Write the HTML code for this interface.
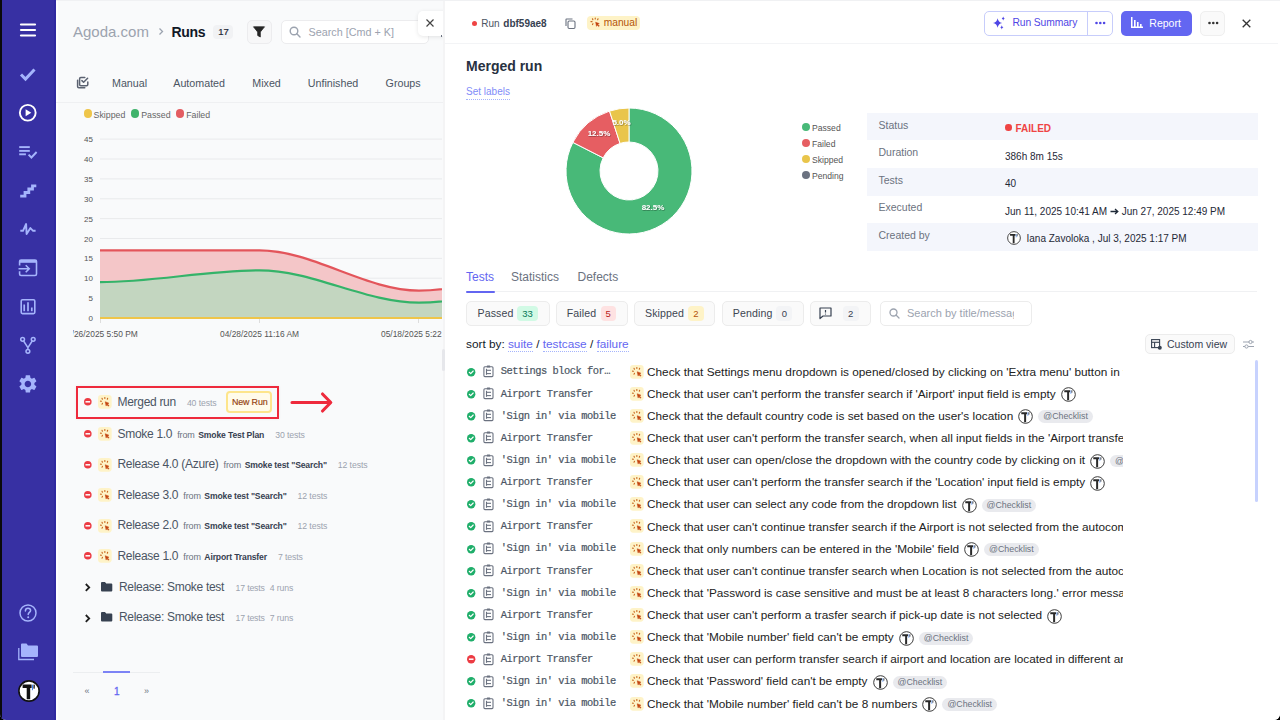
<!DOCTYPE html>
<html><head><meta charset="utf-8"><style>
*{box-sizing:border-box;margin:0;padding:0}
html,body{width:1280px;height:720px;overflow:hidden;background:#000}
body{font-family:"Liberation Sans",sans-serif;position:relative;color:#111827}
#app{position:absolute;left:0;top:0;width:1280px;height:720px;background:#fff;border-bottom-left-radius:6px;border-bottom-right-radius:6px;overflow:hidden}
.a{position:absolute}
.t{position:absolute;white-space:nowrap;line-height:1}
svg{position:absolute;overflow:visible}
</style></head><body><div id="app">
<div class="a" style="left:0;top:0;width:56px;height:720px;background:#3730a3"></div>
<div class="a" style="left:0;top:0;width:1.5px;height:720px;background:#0a0a0a"></div>
<div class="a" style="left:54px;top:0;width:2px;height:720px;background:#3029a0"></div>
<svg style="left:19px;top:22px" width="18" height="16"><g stroke="#fff" stroke-width="2.2" stroke-linecap="round"><line x1="2" y1="2.5" x2="16" y2="2.5"/><line x1="2" y1="8" x2="16" y2="8"/><line x1="2" y1="13.5" x2="16" y2="13.5"/></g></svg>
<svg style="left:0;top:0" width="56" height="720"><path d="M21 74.5 L25.5 79 L34.5 69.5" fill="none" stroke="#a5b4fc" stroke-width="3" stroke-linecap="butt" stroke-linejoin="miter"/></svg>
<svg style="left:0;top:0" width="56" height="720"><circle cx="27.75" cy="112.75" r="7.9" fill="none" stroke="#fff" stroke-width="1.9"/><path d="M25.6 109.2 L31.3 112.75 L25.6 116.3Z" fill="#fff"/></svg>
<svg style="left:0;top:0" width="56" height="720"><g stroke="#a5b4fc" stroke-width="1.9" fill="none"><line x1="19.2" y1="147.1" x2="29.8" y2="147.1"/><line x1="19.2" y1="150.9" x2="29.8" y2="150.9"/><line x1="19.2" y1="154.3" x2="25.9" y2="154.3"/><path d="M28.6 154.6 L31.4 157.5 L36.6 152"/></g></svg>
<svg style="left:0;top:0" width="56" height="720"><path d="M20.2 196.1 H25 V192.5 H28.8 V189 H32.5 V185.8 H36.3" fill="none" stroke="#a5b4fc" stroke-width="2.8" stroke-linejoin="miter"/></svg>
<svg style="left:0;top:0" width="56" height="720"><path d="M20.3 230.8 H23 L26.1 224 L26.6 234 L30.4 228.1 L33.1 230.8 H35.6" fill="none" stroke="#a5b4fc" stroke-width="1.9" stroke-linejoin="round" stroke-linecap="butt"/></svg>
<svg style="left:0;top:0" width="56" height="720"><g fill="none" stroke="#a5b4fc" stroke-width="1.6"><path d="M19.6 265.6 V261.5 Q19.6 260 21.1 260 H35 Q36.5 260 36.5 261.5 V274 Q36.5 275.5 35 275.5 H21.1 Q19.6 275.5 19.6 274 V271.3"/><path d="M18.5 268.7 H28.8 M25.7 265.2 L29.2 268.7 L25.7 272.2"/></g><rect x="19.6" y="260" width="16.9" height="2.8" fill="#a5b4fc"/></svg>
<svg style="left:0;top:0" width="56" height="720"><rect x="21.2" y="299.7" width="13.6" height="13.9" rx="1.3" fill="none" stroke="#a5b4fc" stroke-width="1.6"/><g stroke="#a5b4fc" stroke-width="1.7"><line x1="24.2" y1="304.5" x2="24.2" y2="311.2"/><line x1="28" y1="302.2" x2="28" y2="311.2"/><line x1="31.8" y1="307.5" x2="31.8" y2="311.2"/></g></svg>
<svg style="left:0;top:0" width="56" height="720"><g fill="none" stroke="#a5b4fc" stroke-width="1.5"><circle cx="22.6" cy="339.3" r="1.9"/><circle cx="33.2" cy="339.3" r="1.9"/><circle cx="27.9" cy="351.3" r="1.9"/><path d="M23.6 341 L27.9 347.6 L32.2 341 M27.9 347.6 V349.4"/></g></svg>
<svg style="left:17px;top:373px" width="21.8" height="21.8" viewBox="0 0 24 24"><path fill="#a5b4fc" d="M19.14 12.94c.04-.3.06-.61.06-.94 0-.32-.02-.64-.07-.94l2.03-1.58a.49.49 0 0 0 .12-.61l-1.92-3.32a.488.488 0 0 0-.59-.22l-2.39.96c-.5-.38-1.03-.7-1.62-.94l-.36-2.54a.484.484 0 0 0-.48-.41h-3.84c-.24 0-.43.17-.47.41l-.36 2.54c-.59.24-1.13.57-1.62.94l-2.39-.96c-.22-.08-.47 0-.59.22L2.74 8.87c-.12.21-.08.47.12.61l2.03 1.58c-.05.3-.09.63-.09.94s.02.64.07.94l-2.03 1.58a.49.49 0 0 0-.12.61l1.92 3.32c.12.22.37.29.59.22l2.39-.96c.5.38 1.03.7 1.62.94l.36 2.54c.05.24.24.41.48.41h3.84c.24 0 .44-.17.47-.41l.36-2.54c.59-.24 1.13-.56 1.62-.94l2.39.96c.22.08.47 0 .59-.22l1.92-3.32c.12-.22.07-.47-.12-.61l-2.01-1.58zM12 15.6c-1.98 0-3.6-1.62-3.6-3.6s1.62-3.6 3.6-3.6 3.6 1.62 3.6 3.6-1.62 3.6-3.6 3.6z"/></svg>
<svg style="left:19px;top:604px" width="18" height="18"><circle cx="9" cy="9" r="8" fill="none" stroke="#a5b4fc" stroke-width="1.5"/><path d="M6.4 7 C6.4 5.2 7.6 4.3 9 4.3 C10.5 4.3 11.6 5.3 11.6 6.6 C11.6 8.3 9.2 8.5 9.2 10.4" fill="none" stroke="#a5b4fc" stroke-width="1.5" stroke-linecap="round"/><circle cx="9.2" cy="13.2" r="1" fill="#a5b4fc"/></svg>
<svg style="left:17px;top:642px" width="22" height="20"><path d="M4 2.5 Q4 1.5 5 1.5 H9.5 L11 3.5 H20 Q21 3.5 21 4.5 V14 Q21 15 20 15 H5 Q4 15 4 14Z" fill="#a5b4fc"/><path d="M1.8 6 V17.5 H17" fill="none" stroke="#a5b4fc" stroke-width="1.3"/></svg>
<svg style="left:17.8px;top:679.7px" width="22" height="22"><circle cx="11" cy="11" r="10.1" fill="#fff" stroke="#111" stroke-width="1.6"/><path d="M4.6 4.6 H13.6 V7.9 H12.2 V19.2 H8.7 V7.9 H4.6Z" fill="#111"/><line x1="14.6" y1="4.6" x2="14.4" y2="10.2" stroke="#3b82f6" stroke-width="1"/><line x1="16.2" y1="4.6" x2="16" y2="8.6" stroke="#111" stroke-width="1.3"/></svg>
<div class="a" style="left:56px;top:0;width:2px;height:720px;background:#fff"></div>
<div class="a" style="left:58px;top:0;width:385px;height:720px;background:#f9fafb"></div>
<div class="a" style="left:442.5px;top:0;width:3px;height:720px;background:#f4f4f5"></div>
<div class="t" style="left:73px;top:24.2px;font-size:15px;color:#9ca3af">Agoda.com</div>
<svg style="left:158px;top:27px" width="6" height="9"><path d="M1.5 1.5 L4.5 4.5 L1.5 7.5" fill="none" stroke="#9ca3af" stroke-width="1.3"/></svg>
<div class="t" style="left:171.5px;top:25px;font-size:14px;letter-spacing:-0.3px;font-weight:bold;color:#111827">Runs</div>
<div class="a" style="left:213px;top:25px;width:20px;height:14px;border-radius:4px;background:#f1f2f4"></div>
<div class="t" style="left:218.3px;top:27.3px;font-size:9.5px;color:#1f2937;-webkit-text-stroke:0.2px #1f2937">17</div>
<div class="a" style="left:247px;top:19.5px;width:24.5px;height:24.5px;border-radius:5px;background:#f7f7f8;border:1px solid #ececee"></div>
<svg style="left:253px;top:25.5px" width="12" height="12"><path d="M0.5 0.8 H11.5 L7.3 6 V11 L4.7 9.5 V6Z" fill="#262626" stroke="#262626" stroke-width="0.8" stroke-linejoin="round"/></svg>
<div class="a" style="left:280.5px;top:19.5px;width:148px;height:24.5px;border-radius:5px;background:#fff;border:1px solid #ececee"></div>
<svg style="left:289px;top:25.5px" width="12" height="12"><circle cx="5" cy="5" r="3.8" fill="none" stroke="#9ca3af" stroke-width="1.4"/><line x1="7.8" y1="7.8" x2="11" y2="11" stroke="#9ca3af" stroke-width="1.4" stroke-linecap="round"/></svg>
<div class="t" style="left:308.5px;top:27px;font-size:10.8px;color:#9ca3af">Search [Cmd + K]</div>
<div class="a" style="left:400px;top:0;width:42.5px;height:60px;overflow:hidden"><div class="a" style="left:17.5px;top:10.5px;width:30px;height:25px;border-radius:5px;background:#fff;box-shadow:0 1px 4px rgba(0,0,0,0.10)"></div></div>
<div class="a" style="left:440.8px;top:35.3px;width:1.5px;height:1.5px;background:#6b7280"></div>
<svg style="left:425.5px;top:19px" width="8" height="8"><path d="M0.5 0.5 L7.5 7.5 M7.5 0.5 L0.5 7.5" stroke="#444" stroke-width="1.2"/></svg>
<svg style="left:0;top:0" width="120" height="100"><g fill="none" stroke="#5b6271" stroke-width="1.5" stroke-linecap="round" stroke-linejoin="round"><path d="M84.8 77.6 H80.8 Q79.6 77.6 79.6 78.8 V84.6 Q79.6 85.8 80.8 85.8 H86.6 Q87.8 85.8 87.8 84.6 V82"/><path d="M81.9 80.6 L83.6 82.3 L87.6 78.3"/><path d="M77.6 80.2 V86.6 Q77.6 87.8 78.8 87.8 H84.8"/></g></svg>
<div class="t" style="left:112px;top:78.3px;font-size:10.7px;color:#4b5563">Manual</div>
<div class="t" style="left:173.3px;top:78.3px;font-size:10.7px;color:#4b5563">Automated</div>
<div class="t" style="left:252.3px;top:78.3px;font-size:10.7px;color:#4b5563">Mixed</div>
<div class="t" style="left:307.8px;top:78.3px;font-size:10.7px;color:#4b5563">Unfinished</div>
<div class="t" style="left:385.6px;top:78.3px;font-size:10.7px;color:#4b5563">Groups</div>
<div class="a" style="left:56px;top:101.5px;width:387px;height:1px;background:#eff0f2"></div>
<div class="a" style="left:83.5px;top:109.2px;width:8.4px;height:8.4px;border-radius:50%;background:#eec54a"></div>
<div class="t" style="left:93.6px;top:110.5px;font-size:8.8px;color:#666">Skipped</div>
<div class="a" style="left:130.8px;top:109.2px;width:8.4px;height:8.4px;border-radius:50%;background:#3fb36b"></div>
<div class="t" style="left:141.2px;top:110.5px;font-size:8.8px;color:#666">Passed</div>
<div class="a" style="left:175.60000000000002px;top:109.2px;width:8.4px;height:8.4px;border-radius:50%;background:#e35d62"></div>
<div class="t" style="left:186.2px;top:110.5px;font-size:8.8px;color:#666">Failed</div>
<svg style="left:0;top:0" width="1280" height="720">
<text x="93" y="321.0" text-anchor="end" font-size="8" fill="#555" font-family="Liberation Sans">0</text><line x1="100" y1="298.1" x2="442" y2="298.1" stroke="#e9eaec" stroke-width="1"/><text x="93" y="301.1" text-anchor="end" font-size="8" fill="#555" font-family="Liberation Sans">5</text><line x1="100" y1="278.2" x2="442" y2="278.2" stroke="#e9eaec" stroke-width="1"/><text x="93" y="281.2" text-anchor="end" font-size="8" fill="#555" font-family="Liberation Sans">10</text><line x1="100" y1="258.4" x2="442" y2="258.4" stroke="#e9eaec" stroke-width="1"/><text x="93" y="261.4" text-anchor="end" font-size="8" fill="#555" font-family="Liberation Sans">15</text><line x1="100" y1="238.5" x2="442" y2="238.5" stroke="#e9eaec" stroke-width="1"/><text x="93" y="241.5" text-anchor="end" font-size="8" fill="#555" font-family="Liberation Sans">20</text><line x1="100" y1="218.6" x2="442" y2="218.6" stroke="#e9eaec" stroke-width="1"/><text x="93" y="221.6" text-anchor="end" font-size="8" fill="#555" font-family="Liberation Sans">25</text><line x1="100" y1="198.8" x2="442" y2="198.8" stroke="#e9eaec" stroke-width="1"/><text x="93" y="201.8" text-anchor="end" font-size="8" fill="#555" font-family="Liberation Sans">30</text><line x1="100" y1="178.9" x2="442" y2="178.9" stroke="#e9eaec" stroke-width="1"/><text x="93" y="181.9" text-anchor="end" font-size="8" fill="#555" font-family="Liberation Sans">35</text><line x1="100" y1="159.0" x2="442" y2="159.0" stroke="#e9eaec" stroke-width="1"/><text x="93" y="162.0" text-anchor="end" font-size="8" fill="#555" font-family="Liberation Sans">40</text><line x1="100" y1="139.1" x2="442" y2="139.1" stroke="#e9eaec" stroke-width="1"/><text x="93" y="142.1" text-anchor="end" font-size="8" fill="#555" font-family="Liberation Sans">45</text>
<defs><clipPath id="cc"><rect x="100" y="100" width="342" height="240"/></clipPath></defs>
<g clip-path="url(#cc)">
<path d="M100,250.4 C153.2,250.4 206.3,250.4 259.5,250.4 C312.7,250.4 365.8,290.6 419,290.6 C472.2,290.6 525.3,264.3 578.5,264.3 L578.5,318 L100,318Z" fill="#f4c6c8"/>
<path d="M100,282.2 C153.2,282.2 206.3,270.3 259.5,270.3 C312.7,270.3 365.8,302.7 419,302.7 C472.2,302.7 525.3,278.2 578.5,278.2 L578.5,318 L100,318Z" fill="#c3d6c0"/>
<path d="M100,250.4 C153.2,250.4 206.3,250.4 259.5,250.4 C312.7,250.4 365.8,290.6 419,290.6 C472.2,290.6 525.3,264.3 578.5,264.3" fill="none" stroke="#e3555b" stroke-width="2.2"/>
<path d="M100,282.2 C153.2,282.2 206.3,270.3 259.5,270.3 C312.7,270.3 365.8,302.7 419,302.7 C472.2,302.7 525.3,278.2 578.5,278.2" fill="none" stroke="#34b369" stroke-width="2.2"/>
<line x1="100" y1="318" x2="442" y2="318" stroke="#eec54a" stroke-width="2.2"/>
</g>
<line x1="100.5" y1="319" x2="100.5" y2="323" stroke="#ddd" stroke-width="1"/>
<line x1="259.5" y1="319" x2="259.5" y2="323" stroke="#ddd" stroke-width="1"/>
<line x1="418.5" y1="319" x2="418.5" y2="323" stroke="#ddd" stroke-width="1"/>
<defs><clipPath id="cl"><rect x="73" y="320" width="369" height="30"/></clipPath></defs>
<g clip-path="url(#cl)" font-family="Liberation Sans" font-size="8.4" fill="#555">
<text x="100" y="337.2" text-anchor="middle">04/26/2025 5:50 PM</text>
<text x="259.5" y="337.2" text-anchor="middle">04/28/2025 11:16 AM</text>
<text x="418.75" y="337.2" text-anchor="middle">05/18/2025 5:22 PM</text>
</g>
</svg>
<div class="a" style="left:442.3px;top:349.2px;width:3.2px;height:22px;background:#e6e7eb;border-radius:1.6px"></div>
<div class="a" style="left:75.5px;top:386px;width:203.5px;height:33px;border:2px solid #ee2a3c;background:#f9fafb;box-shadow:0 0 3px rgba(0,0,0,0.06)"></div>
<svg style="left:83.5px;top:397.9px" width="7.6" height="7.6"><circle cx="3.8" cy="3.8" r="3.8" fill="#ec3b43"/><rect x="1.5" y="3.05" width="4.6" height="1.5" fill="#fff"/></svg>
<svg style="left:98.3px;top:394.95px" width="13.7" height="13.7" viewBox="0 0 14 14"><rect x="0" y="0" width="14" height="14" rx="3.2" fill="#fef3c8"/><g stroke="#c8671e" stroke-width="1.1" stroke-linecap="round"><line x1="4.1" y1="3.3" x2="4.5" y2="4.3"/><line x1="7" y1="2.5" x2="7" y2="3.6"/><line x1="9.9" y1="3.3" x2="9.5" y2="4.3"/><line x1="2.5" y1="6.3" x2="3.6" y2="6.4"/><line x1="4.6" y1="8.5" x2="4.1" y2="9.4"/></g><path d="M7.4 6.9 L11.2 8.4 L9.6 9.1 L11.3 10.8 L10.6 11.5 L8.9 9.8 L8.3 11.3Z" fill="#c2410c" stroke="#c2410c" stroke-width="0.5" stroke-linejoin="round"/></svg>
<div class="t" style="left:117.5px;top:395.5px;font-size:12px;color:#4b5563;display:flex;align-items:baseline"><span style="letter-spacing:-0.3px">Merged run</span><span style="font-size:8.7px;letter-spacing:-0.1px;color:#9ca3af;margin-left:11px">40 tests</span></div>
<svg style="left:83.5px;top:430.0px" width="7.6" height="7.6"><circle cx="3.8" cy="3.8" r="3.8" fill="#ec3b43"/><rect x="1.5" y="3.05" width="4.6" height="1.5" fill="#fff"/></svg>
<svg style="left:98.3px;top:427.05px" width="13.7" height="13.7" viewBox="0 0 14 14"><rect x="0" y="0" width="14" height="14" rx="3.2" fill="#fef3c8"/><g stroke="#c8671e" stroke-width="1.1" stroke-linecap="round"><line x1="4.1" y1="3.3" x2="4.5" y2="4.3"/><line x1="7" y1="2.5" x2="7" y2="3.6"/><line x1="9.9" y1="3.3" x2="9.5" y2="4.3"/><line x1="2.5" y1="6.3" x2="3.6" y2="6.4"/><line x1="4.6" y1="8.5" x2="4.1" y2="9.4"/></g><path d="M7.4 6.9 L11.2 8.4 L9.6 9.1 L11.3 10.8 L10.6 11.5 L8.9 9.8 L8.3 11.3Z" fill="#c2410c" stroke="#c2410c" stroke-width="0.5" stroke-linejoin="round"/></svg>
<div class="t" style="left:117.5px;top:427.6px;font-size:12px;color:#4b5563;display:flex;align-items:baseline"><span style="letter-spacing:-0.3px">Smoke 1.0</span><span style="font-size:9px;letter-spacing:-0.1px;color:#6b7280;margin-left:5px">from</span><span style="font-size:8.6px;letter-spacing:-0.15px;font-weight:bold;color:#374151;margin-left:3.5px">Smoke Test Plan</span><span style="font-size:8.7px;letter-spacing:-0.1px;color:#9ca3af;margin-left:11px">30 tests</span></div>
<svg style="left:83.5px;top:460.59999999999997px" width="7.6" height="7.6"><circle cx="3.8" cy="3.8" r="3.8" fill="#ec3b43"/><rect x="1.5" y="3.05" width="4.6" height="1.5" fill="#fff"/></svg>
<svg style="left:98.3px;top:457.65px" width="13.7" height="13.7" viewBox="0 0 14 14"><rect x="0" y="0" width="14" height="14" rx="3.2" fill="#fef3c8"/><g stroke="#c8671e" stroke-width="1.1" stroke-linecap="round"><line x1="4.1" y1="3.3" x2="4.5" y2="4.3"/><line x1="7" y1="2.5" x2="7" y2="3.6"/><line x1="9.9" y1="3.3" x2="9.5" y2="4.3"/><line x1="2.5" y1="6.3" x2="3.6" y2="6.4"/><line x1="4.6" y1="8.5" x2="4.1" y2="9.4"/></g><path d="M7.4 6.9 L11.2 8.4 L9.6 9.1 L11.3 10.8 L10.6 11.5 L8.9 9.8 L8.3 11.3Z" fill="#c2410c" stroke="#c2410c" stroke-width="0.5" stroke-linejoin="round"/></svg>
<div class="t" style="left:117.5px;top:458.2px;font-size:12px;color:#4b5563;display:flex;align-items:baseline"><span style="letter-spacing:-0.3px">Release 4.0 (Azure)</span><span style="font-size:9px;letter-spacing:-0.1px;color:#6b7280;margin-left:5px">from</span><span style="font-size:8.6px;letter-spacing:-0.15px;font-weight:bold;color:#374151;margin-left:3.5px">Smoke test &quot;Search&quot;</span><span style="font-size:8.7px;letter-spacing:-0.1px;color:#9ca3af;margin-left:11px">12 tests</span></div>
<svg style="left:83.5px;top:491.4px" width="7.6" height="7.6"><circle cx="3.8" cy="3.8" r="3.8" fill="#ec3b43"/><rect x="1.5" y="3.05" width="4.6" height="1.5" fill="#fff"/></svg>
<svg style="left:98.3px;top:488.45px" width="13.7" height="13.7" viewBox="0 0 14 14"><rect x="0" y="0" width="14" height="14" rx="3.2" fill="#fef3c8"/><g stroke="#c8671e" stroke-width="1.1" stroke-linecap="round"><line x1="4.1" y1="3.3" x2="4.5" y2="4.3"/><line x1="7" y1="2.5" x2="7" y2="3.6"/><line x1="9.9" y1="3.3" x2="9.5" y2="4.3"/><line x1="2.5" y1="6.3" x2="3.6" y2="6.4"/><line x1="4.6" y1="8.5" x2="4.1" y2="9.4"/></g><path d="M7.4 6.9 L11.2 8.4 L9.6 9.1 L11.3 10.8 L10.6 11.5 L8.9 9.8 L8.3 11.3Z" fill="#c2410c" stroke="#c2410c" stroke-width="0.5" stroke-linejoin="round"/></svg>
<div class="t" style="left:117.5px;top:489.0px;font-size:12px;color:#4b5563;display:flex;align-items:baseline"><span style="letter-spacing:-0.3px">Release 3.0</span><span style="font-size:9px;letter-spacing:-0.1px;color:#6b7280;margin-left:5px">from</span><span style="font-size:8.6px;letter-spacing:-0.15px;font-weight:bold;color:#374151;margin-left:3.5px">Smoke test &quot;Search&quot;</span><span style="font-size:8.7px;letter-spacing:-0.1px;color:#9ca3af;margin-left:11px">12 tests</span></div>
<svg style="left:83.5px;top:521.6px" width="7.6" height="7.6"><circle cx="3.8" cy="3.8" r="3.8" fill="#ec3b43"/><rect x="1.5" y="3.05" width="4.6" height="1.5" fill="#fff"/></svg>
<svg style="left:98.3px;top:518.65px" width="13.7" height="13.7" viewBox="0 0 14 14"><rect x="0" y="0" width="14" height="14" rx="3.2" fill="#fef3c8"/><g stroke="#c8671e" stroke-width="1.1" stroke-linecap="round"><line x1="4.1" y1="3.3" x2="4.5" y2="4.3"/><line x1="7" y1="2.5" x2="7" y2="3.6"/><line x1="9.9" y1="3.3" x2="9.5" y2="4.3"/><line x1="2.5" y1="6.3" x2="3.6" y2="6.4"/><line x1="4.6" y1="8.5" x2="4.1" y2="9.4"/></g><path d="M7.4 6.9 L11.2 8.4 L9.6 9.1 L11.3 10.8 L10.6 11.5 L8.9 9.8 L8.3 11.3Z" fill="#c2410c" stroke="#c2410c" stroke-width="0.5" stroke-linejoin="round"/></svg>
<div class="t" style="left:117.5px;top:519.1999999999999px;font-size:12px;color:#4b5563;display:flex;align-items:baseline"><span style="letter-spacing:-0.3px">Release 2.0</span><span style="font-size:9px;letter-spacing:-0.1px;color:#6b7280;margin-left:5px">from</span><span style="font-size:8.6px;letter-spacing:-0.15px;font-weight:bold;color:#374151;margin-left:3.5px">Smoke test &quot;Search&quot;</span><span style="font-size:8.7px;letter-spacing:-0.1px;color:#9ca3af;margin-left:11px">12 tests</span></div>
<svg style="left:83.5px;top:552.2px" width="7.6" height="7.6"><circle cx="3.8" cy="3.8" r="3.8" fill="#ec3b43"/><rect x="1.5" y="3.05" width="4.6" height="1.5" fill="#fff"/></svg>
<svg style="left:98.3px;top:549.25px" width="13.7" height="13.7" viewBox="0 0 14 14"><rect x="0" y="0" width="14" height="14" rx="3.2" fill="#fef3c8"/><g stroke="#c8671e" stroke-width="1.1" stroke-linecap="round"><line x1="4.1" y1="3.3" x2="4.5" y2="4.3"/><line x1="7" y1="2.5" x2="7" y2="3.6"/><line x1="9.9" y1="3.3" x2="9.5" y2="4.3"/><line x1="2.5" y1="6.3" x2="3.6" y2="6.4"/><line x1="4.6" y1="8.5" x2="4.1" y2="9.4"/></g><path d="M7.4 6.9 L11.2 8.4 L9.6 9.1 L11.3 10.8 L10.6 11.5 L8.9 9.8 L8.3 11.3Z" fill="#c2410c" stroke="#c2410c" stroke-width="0.5" stroke-linejoin="round"/></svg>
<div class="t" style="left:117.5px;top:549.8px;font-size:12px;color:#4b5563;display:flex;align-items:baseline"><span style="letter-spacing:-0.3px">Release 1.0</span><span style="font-size:9px;letter-spacing:-0.1px;color:#6b7280;margin-left:5px">from</span><span style="font-size:8.6px;letter-spacing:-0.15px;font-weight:bold;color:#374151;margin-left:3.5px">Airport Transfer</span><span style="font-size:8.7px;letter-spacing:-0.1px;color:#9ca3af;margin-left:11px">7 tests</span></div>
<div class="a" style="left:226px;top:391.2px;width:46px;height:21.6px;border-radius:4px;border:2px solid #fde58c;background:#fffbeb"></div>
<div class="t" style="left:232px;top:397.5px;font-size:8.9px;letter-spacing:-0.15px;-webkit-text-stroke:0.15px #92400e;color:#92400e">New Run</div>
<svg style="left:288px;top:390px" width="48" height="24"><path d="M4 12.5 H42.5 M34.5 4 L42.8 12.5 L34.5 21" fill="none" stroke="#ee2a3c" stroke-width="3.1" stroke-linecap="round" stroke-linejoin="round"/></svg>
<svg style="left:83.5px;top:583.4px" width="7" height="9"><path d="M1.8 1 L5.2 4.4 L1.8 7.8" fill="none" stroke="#1f1f1f" stroke-width="1.8"/></svg>
<svg style="left:100.8px;top:581.9px" width="11.3" height="9.6"><path d="M0 1 Q0 0 1 0 H4 L5.2 1.4 H10.3 Q11.3 1.4 11.3 2.4 V8.6 Q11.3 9.6 10.3 9.6 H1 Q0 9.6 0 8.6Z" fill="#374151"/></svg>
<div class="t" style="left:119px;top:580.5px;font-size:12px;color:#4b5563;display:flex;align-items:baseline"><span style="letter-spacing:-0.3px">Release: Smoke test</span><span style="font-size:8.7px;letter-spacing:-0.15px;color:#9ca3af;margin-left:11.5px">17 tests</span><span style="font-size:8.7px;letter-spacing:-0.1px;color:#9ca3af;margin-left:5px">4 runs</span></div>
<svg style="left:83.5px;top:613.9px" width="7" height="9"><path d="M1.8 1 L5.2 4.4 L1.8 7.8" fill="none" stroke="#1f1f1f" stroke-width="1.8"/></svg>
<svg style="left:100.8px;top:612.4px" width="11.3" height="9.6"><path d="M0 1 Q0 0 1 0 H4 L5.2 1.4 H10.3 Q11.3 1.4 11.3 2.4 V8.6 Q11.3 9.6 10.3 9.6 H1 Q0 9.6 0 8.6Z" fill="#374151"/></svg>
<div class="t" style="left:119px;top:611.0px;font-size:12px;color:#4b5563;display:flex;align-items:baseline"><span style="letter-spacing:-0.3px">Release: Smoke test</span><span style="font-size:8.7px;letter-spacing:-0.15px;color:#9ca3af;margin-left:11.5px">17 tests</span><span style="font-size:8.7px;letter-spacing:-0.1px;color:#9ca3af;margin-left:5px">7 runs</span></div>
<div class="a" style="left:73px;top:671.5px;width:87px;height:1px;background:#eceef0"></div>
<div class="a" style="left:103px;top:671.4px;width:27px;height:2px;background:#7c83f5"></div>
<div class="t" style="left:84.5px;top:687.3px;font-size:9px;color:#6b7280">«</div>
<div class="t" style="left:114px;top:686.5px;font-size:10px;color:#6366f1;-webkit-text-stroke:0.3px #6366f1">1</div>
<div class="t" style="left:144px;top:687.3px;font-size:9px;color:#6b7280">»</div>
<div class="a" style="left:445px;top:0;width:835px;height:720px;background:#fff"></div>
<div class="a" style="left:445px;top:43px;width:833px;height:1.2px;background:#f3f4f6"></div>
<div class="a" style="left:471.8px;top:21px;width:5px;height:5px;border-radius:50%;background:#ef4444"></div>
<div class="t" style="left:481.2px;top:19px;font-size:10px;color:#4b5563">Run <b style="color:#374151;margin-left:1px">dbf59ae8</b></div>
<svg style="left:565px;top:18px" width="11" height="11"><g fill="none" stroke="#6b7280" stroke-width="1.1"><rect x="3" y="3" width="7" height="7.5" rx="1.2"/><path d="M1 8 V1.5 Q1 1 1.5 1 H7.5"/></g></svg>
<div class="a" style="left:586.5px;top:16px;width:53px;height:14px;border-radius:4px;background:#fef3c7"></div>
<svg style="left:590px;top:17.2px" width="10.5" height="10.5" viewBox="1.5 1.5 11 11"><g stroke="#c8671e" stroke-width="1.2" stroke-linecap="round"><line x1="4.1" y1="3.3" x2="4.5" y2="4.3"/><line x1="7" y1="2.5" x2="7" y2="3.6"/><line x1="9.9" y1="3.3" x2="9.5" y2="4.3"/><line x1="2.5" y1="6.3" x2="3.6" y2="6.4"/><line x1="4.6" y1="8.5" x2="4.1" y2="9.4"/></g><path d="M7.4 6.9 L11.2 8.4 L9.6 9.1 L11.3 10.8 L10.6 11.5 L8.9 9.8 L8.3 11.3Z" fill="#c2410c" stroke="#c2410c" stroke-width="0.5" stroke-linejoin="round"/></svg>
<div class="t" style="left:603.8px;top:18px;font-size:10.2px;color:#b45309">manual</div>
<div class="a" style="left:984px;top:10.5px;width:129px;height:25px;border-radius:5px;border:1px solid #c7cdfb;background:#fff"></div>
<div class="a" style="left:1087px;top:11px;width:1px;height:24px;background:#c7cdfb"></div>
<svg style="left:0;top:0" width="1280" height="60"><g fill="#4f46e5"><path d="M997.6 18.2 Q998.3 22.3 1002.2 23 Q998.3 23.7 997.6 27.8 Q996.9 23.7 993 23 Q996.9 22.3 997.6 18.2Z"/><path d="M1003.2 16.6 Q1003.5 18.3 1004.7 18.6 Q1003.5 18.9 1003.2 20.6 Q1002.9 18.9 1001.7 18.6 Q1002.9 18.3 1003.2 16.6Z"/><path d="M1001.8 25.2 Q1002.1 27 1003.4 27.3 Q1002.1 27.6 1001.8 29.4 Q1001.5 27.6 1000.2 27.3 Q1001.5 27 1001.8 25.2Z"/></g></svg>
<div class="t" style="left:1012.5px;top:18.3px;font-size:10.3px;letter-spacing:-0.1px;color:#4f46e5">Run Summary</div>
<svg style="left:1095px;top:21px" width="11" height="4"><g fill="#4f46e5"><circle cx="1.5" cy="2" r="1.3"/><circle cx="5.3" cy="2" r="1.3"/><circle cx="9.1" cy="2" r="1.3"/></g></svg>
<div class="a" style="left:1121px;top:10.5px;width:71px;height:25px;border-radius:5px;background:#6366f1"></div>
<svg style="left:1131px;top:17px" width="12" height="11"><g fill="#fff"><rect x="0" y="0" width="1.5" height="11"/><rect x="0" y="9.5" width="12" height="1.5"/><rect x="3" y="3" width="1.6" height="7"/><rect x="6" y="5" width="1.6" height="5"/><rect x="9" y="7" width="1.6" height="3"/></g></svg>
<div class="t" style="left:1149.3px;top:18px;font-size:10.5px;color:#fff">Report</div>
<div class="a" style="left:1200px;top:10.5px;width:25px;height:25px;border-radius:5px;background:#fafafa;border:1px solid #efefef"></div>
<svg style="left:1207.5px;top:21px" width="11" height="4"><g fill="#333"><circle cx="1.5" cy="2" r="1.3"/><circle cx="5.3" cy="2" r="1.3"/><circle cx="9.1" cy="2" r="1.3"/></g></svg>
<svg style="left:1241.5px;top:18.5px" width="9" height="9"><path d="M0.7 0.7 L8.3 8.3 M8.3 0.7 L0.7 8.3" stroke="#333" stroke-width="1.3"/></svg>
<div class="t" style="left:466px;top:59.2px;font-size:14px;font-weight:bold;color:#283141">Merged run</div>
<div class="t" style="left:466px;top:87px;font-size:10px;color:#818cf8;border-bottom:1px dotted #a5b4fc;padding-bottom:2px">Set labels</div>
<svg style="left:0;top:0" width="1280" height="720"><defs><filter id="ts" x="-20%" y="-50%" width="140%" height="200%"><feDropShadow dx="0.5" dy="0.5" stdDeviation="0.6" flood-color="#000" flood-opacity="0.6"/></filter></defs><path d="M629.00,108.00 A63,63 0 1 1 572.87,142.40 L603.16,157.83 A29,29 0 1 0 629.00,142.00Z" fill="#48b978" stroke="#fff" stroke-width="1"/><path d="M572.87,142.40 A63,63 0 0 1 609.53,111.08 L620.04,143.42 A29,29 0 0 0 603.16,157.83Z" fill="#e65e62" stroke="#fff" stroke-width="1"/><path d="M609.53,111.08 A63,63 0 0 1 629.00,108.00 L629.00,142.00 A29,29 0 0 0 620.04,143.42Z" fill="#e9c54b" stroke="#fff" stroke-width="1"/><g font-family="Liberation Sans" font-size="8" font-weight="bold" fill="#fff" text-anchor="middle" filter="url(#ts)"><text x="653" y="210.3">82.5%</text><text x="599" y="135.8">12.5%</text><text x="621.5" y="125.3">5.0%</text></g></svg>
<div class="a" style="left:801.5px;top:122.65px;width:8.2px;height:8.2px;border-radius:50%;background:#48b978"></div>
<div class="t" style="left:812px;top:123.75px;font-size:8.6px;color:#555">Passed</div>
<div class="a" style="left:801.5px;top:138.9px;width:8.2px;height:8.2px;border-radius:50%;background:#e65e62"></div>
<div class="t" style="left:812px;top:140px;font-size:8.6px;color:#555">Failed</div>
<div class="a" style="left:801.5px;top:154.65px;width:8.2px;height:8.2px;border-radius:50%;background:#e9c54b"></div>
<div class="t" style="left:812px;top:155.75px;font-size:8.6px;color:#555">Skipped</div>
<div class="a" style="left:801.5px;top:170.9px;width:8.2px;height:8.2px;border-radius:50%;background:#6b7280"></div>
<div class="t" style="left:812px;top:172px;font-size:8.6px;color:#555">Pending</div>
<div class="a" style="left:867px;top:113.1px;width:390.5px;height:27.4px;background:#f4f6fc"></div>
<div class="t" style="left:878.5px;top:119.7px;font-size:10.5px;color:#6b7280">Status</div>
<div class="t" style="left:878.5px;top:147.1px;font-size:10.5px;color:#6b7280">Duration</div>
<div class="t" style="left:1005px;top:151.8px;font-size:10px;color:#1f2937">386h 8m 15s</div>
<div class="a" style="left:867px;top:168px;width:390.5px;height:27.6px;background:#f4f6fc"></div>
<div class="t" style="left:878.5px;top:174.6px;font-size:10.5px;color:#6b7280">Tests</div>
<div class="t" style="left:1005px;top:179.3px;font-size:10px;color:#1f2937">40</div>
<div class="t" style="left:878.5px;top:202.2px;font-size:10.5px;color:#6b7280">Executed</div>
<div class="t" style="left:1005px;top:206.9px;font-size:10px;color:#1f2937">Jun 11, 2025 10:41 AM <svg style="position:relative;display:inline-block;vertical-align:middle;top:-1px" width="9" height="7"><path d="M0.5 3.5 H7.5 M5 1 L7.8 3.5 L5 6" fill="none" stroke="#1f2937" stroke-width="1.3"/></svg> Jun 27, 2025 12:49 PM</div>
<div class="a" style="left:867px;top:223.3px;width:390.5px;height:27.5px;background:#f4f6fc"></div>
<div class="t" style="left:878.5px;top:229.9px;font-size:10.5px;color:#6b7280">Created by</div>
<div class="a" style="left:1005px;top:124px;width:6.5px;height:6.5px;border-radius:50%;background:#ef4444"></div>
<div class="t" style="left:1015.5px;top:123.5px;font-size:10px;font-weight:bold;color:#ef4444">FAILED</div>
<svg style="left:1007px;top:231px" width="14" height="14" viewBox="0 0 22 22"><circle cx="11" cy="11" r="10" fill="#fff" stroke="#333" stroke-width="1.4"/><path d="M4.8 4.8 H13.4 V7.6 H11.9 V19.3 H9 V7.6 H4.8Z" fill="#2a2a2a"/><line x1="14.6" y1="4.8" x2="14.4" y2="10" stroke="#3b82f6" stroke-width="1"/><line x1="16.1" y1="4.8" x2="15.9" y2="8.4" stroke="#2a2a2a" stroke-width="1.2"/></svg>
<div class="t" style="left:1026.5px;top:234px;font-size:10px;color:#1f2937">Iana Zavoloka , Jul 3, 2025 1:17 PM</div>
<div class="t" style="left:466px;top:271px;font-size:12px;color:#6366f1">Tests</div>
<div class="t" style="left:511px;top:271px;font-size:12px;color:#6b7280">Statistics</div>
<div class="t" style="left:577.5px;top:271px;font-size:12px;color:#6b7280">Defects</div>
<div class="a" style="left:466px;top:291px;width:791px;height:1px;background:#f0f1f3"></div>
<div class="a" style="left:466px;top:290.5px;width:29px;height:2px;background:#6366f1;border-radius:1px"></div>
<div class="a" style="left:466px;top:300.5px;width:83.5px;height:25.5px;border-radius:5px;background:#fafafa;border:1px solid #ececec"></div><div class="t" style="left:477.5px;top:307.8px;font-size:10.6px;letter-spacing:0.1px;color:#404652">Passed</div><div class="a" style="left:517px;top:305.5px;width:21px;height:15px;border-radius:4px;background:#d1fae5"></div><div class="t" style="left:517px;top:308.5px;width:21px;text-align:center;font-size:9.5px;color:#047857">33</div>
<div class="a" style="left:555.5px;top:300.5px;width:72.0px;height:25.5px;border-radius:5px;background:#fafafa;border:1px solid #ececec"></div><div class="t" style="left:566.8px;top:307.8px;font-size:10.6px;letter-spacing:0.1px;color:#404652">Failed</div><div class="a" style="left:600.5px;top:305.5px;width:15.299999999999955px;height:15px;border-radius:4px;background:#fee2e2"></div><div class="t" style="left:600.5px;top:308.5px;width:15.299999999999955px;text-align:center;font-size:9.5px;color:#b91c1c">5</div>
<div class="a" style="left:633.8px;top:300.5px;width:81.70000000000005px;height:25.5px;border-radius:5px;background:#fafafa;border:1px solid #ececec"></div><div class="t" style="left:645px;top:307.8px;font-size:10.6px;letter-spacing:0.1px;color:#404652">Skipped</div><div class="a" style="left:688px;top:305.5px;width:15.799999999999955px;height:15px;border-radius:4px;background:#fef3c7"></div><div class="t" style="left:688px;top:308.5px;width:15.799999999999955px;text-align:center;font-size:9.5px;color:#b45309">2</div>
<div class="a" style="left:721.8px;top:300.5px;width:82.0px;height:25.5px;border-radius:5px;background:#fafafa;border:1px solid #ececec"></div><div class="t" style="left:732.8px;top:307.8px;font-size:10.6px;letter-spacing:0.1px;color:#404652">Pending</div><div class="a" style="left:776.3px;top:305.5px;width:16.200000000000045px;height:15px;border-radius:4px;background:#f3f4f6"></div><div class="t" style="left:776.3px;top:308.5px;width:16.200000000000045px;text-align:center;font-size:9.5px;color:#374151">0</div>
<div class="a" style="left:809.5px;top:300.5px;width:61.0px;height:25.5px;border-radius:5px;background:#fafafa;border:1px solid #ececec"></div><div class="a" style="left:842.5px;top:305.5px;width:16.299999999999955px;height:15px;border-radius:4px;background:#f3f4f6"></div><div class="t" style="left:842.5px;top:308.5px;width:16.299999999999955px;text-align:center;font-size:9.5px;color:#374151">2</div>
<svg style="left:818.5px;top:307px" width="13" height="12"><path d="M1 1 H12 V9 H4 L1 11.5Z" fill="none" stroke="#374151" stroke-width="1.2" stroke-linejoin="round"/><line x1="6.5" y1="3" x2="6.5" y2="5.5" stroke="#374151" stroke-width="1.2"/><circle cx="6.5" cy="7" r="0.6" fill="#374151"/></svg>
<div class="a" style="left:879.5px;top:300.5px;width:152px;height:25.5px;border-radius:5px;background:#fff;border:1px solid #ececec"></div>
<svg style="left:888.5px;top:307.5px" width="11" height="11"><circle cx="4.5" cy="4.5" r="3.5" fill="none" stroke="#9ca3af" stroke-width="1.3"/><line x1="7" y1="7" x2="10" y2="10" stroke="#9ca3af" stroke-width="1.3" stroke-linecap="round"/></svg>
<div class="a" style="left:907px;top:305px;width:106.5px;height:16px;overflow:hidden"><div class="t" style="left:0;top:2.5px;font-size:11px;color:#9ca3af">Search by title/message</div></div>
<div class="t" style="left:466px;top:338.5px;font-size:11.8px;color:#111827">sort by: <span style="color:#6366f1;border-bottom:1px dotted #a5b4fc">suite</span> / <span style="color:#6366f1;border-bottom:1px dotted #a5b4fc">testcase</span> / <span style="color:#6366f1;border-bottom:1px dotted #a5b4fc">failure</span></div>
<div class="a" style="left:1144.5px;top:334.2px;width:90.5px;height:19.5px;border-radius:5px;background:#fafafa;border:1px solid #ececec"></div>
<svg style="left:1150.5px;top:338.5px" width="11" height="11"><g fill="none" stroke="#374151" stroke-width="1.1"><rect x="0.6" y="0.6" width="8" height="8"/><line x1="0.6" y1="3.3" x2="8.6" y2="3.3"/><line x1="3.6" y1="3.3" x2="3.6" y2="8.6"/></g><circle cx="8.8" cy="8.8" r="2" fill="#374151"/></svg>
<div class="t" style="left:1167px;top:339px;font-size:10.5px;color:#374151">Custom view</div>
<svg style="left:1243px;top:339px" width="11" height="10"><g stroke="#9ca3af" stroke-width="1" fill="#fff"><line x1="0" y1="3" x2="11" y2="3"/><line x1="0" y1="7.5" x2="11" y2="7.5"/><circle cx="7.5" cy="3" r="1.6"/><circle cx="3.5" cy="7.5" r="1.6"/></g></svg>
<div class="a" style="left:1254.5px;top:359.5px;width:3px;height:142px;background:#c7d2fe;border-radius:1.5px"></div>
<div class="a" style="left:447px;top:360px;width:676px;height:360px;overflow:hidden">
<svg style="left:19.49999999999999px;top:7.5000000000000115px" width="8.4" height="8.4" viewBox="0 0 10 10"><circle cx="5" cy="5" r="5" fill="#1fae6a"/><path d="M2.7 5.1 L4.4 6.7 L7.4 3.6" fill="none" stroke="#fff" stroke-width="1.4" stroke-linecap="round" stroke-linejoin="round"/></svg>
<svg style="left:35.80000000000001px;top:5.0000000000000115px" width="11" height="12" viewBox="0 0 11 12"><g fill="none" stroke="#6b7280" stroke-width="1.1"><rect x="0.9" y="1.8" width="9.1" height="9.8" rx="1"/><line x1="3.5" y1="3.8" x2="3.5" y2="9.8"/><line x1="3.5" y1="5.3" x2="8" y2="5.3"/><line x1="3.5" y1="8.6" x2="8" y2="8.6"/></g><rect x="3.8" y="0.4" width="3.4" height="2.2" rx="0.6" fill="#6b7280"/></svg>
<div class="t" style="left:53.69999999999999px;top:6.4px;font-family:'Liberation Mono',monospace;font-size:10.4px;letter-spacing:-0.48px;-webkit-text-stroke:0.2px #4b5563;color:#4b5563">Settings block for…</div>
<svg style="left:183.29999999999995px;top:4.550000000000011px" width="13.7" height="13.7" viewBox="0 0 14 14"><rect x="0" y="0" width="14" height="14" rx="3.2" fill="#fef3c8"/><g stroke="#c8671e" stroke-width="1.1" stroke-linecap="round"><line x1="4.1" y1="3.3" x2="4.5" y2="4.3"/><line x1="7" y1="2.5" x2="7" y2="3.6"/><line x1="9.9" y1="3.3" x2="9.5" y2="4.3"/><line x1="2.5" y1="6.3" x2="3.6" y2="6.4"/><line x1="4.6" y1="8.5" x2="4.1" y2="9.4"/></g><path d="M7.4 6.9 L11.2 8.4 L9.6 9.1 L11.3 10.8 L10.6 11.5 L8.9 9.8 L8.3 11.3Z" fill="#c2410c" stroke="#c2410c" stroke-width="0.5" stroke-linejoin="round"/></svg>
<div class="t" style="left:200px;top:5.1px;height:15px;font-size:11.8px;color:#222;display:flex;align-items:center">Check that Settings menu dropdown is opened/closed by clicking on &#x27;Extra menu&#x27; button in the header</div>
<svg style="left:19.49999999999999px;top:29.630000000000006px" width="8.4" height="8.4" viewBox="0 0 10 10"><circle cx="5" cy="5" r="5" fill="#1fae6a"/><path d="M2.7 5.1 L4.4 6.7 L7.4 3.6" fill="none" stroke="#fff" stroke-width="1.4" stroke-linecap="round" stroke-linejoin="round"/></svg>
<svg style="left:35.80000000000001px;top:27.130000000000006px" width="11" height="12" viewBox="0 0 11 12"><g fill="none" stroke="#6b7280" stroke-width="1.1"><rect x="0.9" y="1.8" width="9.1" height="9.8" rx="1"/><line x1="3.5" y1="3.8" x2="3.5" y2="9.8"/><line x1="3.5" y1="5.3" x2="8" y2="5.3"/><line x1="3.5" y1="8.6" x2="8" y2="8.6"/></g><rect x="3.8" y="0.4" width="3.4" height="2.2" rx="0.6" fill="#6b7280"/></svg>
<div class="t" style="left:53.69999999999999px;top:28.5px;font-family:'Liberation Mono',monospace;font-size:10.4px;letter-spacing:-0.48px;-webkit-text-stroke:0.2px #4b5563;color:#4b5563">Airport Transfer</div>
<svg style="left:183.29999999999995px;top:26.680000000000007px" width="13.7" height="13.7" viewBox="0 0 14 14"><rect x="0" y="0" width="14" height="14" rx="3.2" fill="#fef3c8"/><g stroke="#c8671e" stroke-width="1.1" stroke-linecap="round"><line x1="4.1" y1="3.3" x2="4.5" y2="4.3"/><line x1="7" y1="2.5" x2="7" y2="3.6"/><line x1="9.9" y1="3.3" x2="9.5" y2="4.3"/><line x1="2.5" y1="6.3" x2="3.6" y2="6.4"/><line x1="4.6" y1="8.5" x2="4.1" y2="9.4"/></g><path d="M7.4 6.9 L11.2 8.4 L9.6 9.1 L11.3 10.8 L10.6 11.5 L8.9 9.8 L8.3 11.3Z" fill="#c2410c" stroke="#c2410c" stroke-width="0.5" stroke-linejoin="round"/></svg>
<div class="t" style="left:200px;top:27.2px;height:15px;font-size:11.8px;color:#222;display:flex;align-items:center">Check that user can&#x27;t perform the transfer search if &#x27;Airport&#x27; input field is empty<span style="display:inline-block;width:15px;height:15px;margin-left:5px;position:relative;top:0px"><svg style="left:0px;top:0px" width="15" height="15" viewBox="0 0 22 22"><circle cx="11" cy="11" r="10" fill="#fff" stroke="#333" stroke-width="1.4"/><path d="M4.8 4.8 H13.4 V7.6 H11.9 V19.3 H9 V7.6 H4.8Z" fill="#2a2a2a"/><line x1="14.6" y1="4.8" x2="14.4" y2="10" stroke="#3b82f6" stroke-width="1"/><line x1="16.1" y1="4.8" x2="15.9" y2="8.4" stroke="#2a2a2a" stroke-width="1.2"/></svg></span></div>
<svg style="left:19.49999999999999px;top:51.76px" width="8.4" height="8.4" viewBox="0 0 10 10"><circle cx="5" cy="5" r="5" fill="#1fae6a"/><path d="M2.7 5.1 L4.4 6.7 L7.4 3.6" fill="none" stroke="#fff" stroke-width="1.4" stroke-linecap="round" stroke-linejoin="round"/></svg>
<svg style="left:35.80000000000001px;top:49.260000000000005px" width="11" height="12" viewBox="0 0 11 12"><g fill="none" stroke="#6b7280" stroke-width="1.1"><rect x="0.9" y="1.8" width="9.1" height="9.8" rx="1"/><line x1="3.5" y1="3.8" x2="3.5" y2="9.8"/><line x1="3.5" y1="5.3" x2="8" y2="5.3"/><line x1="3.5" y1="8.6" x2="8" y2="8.6"/></g><rect x="3.8" y="0.4" width="3.4" height="2.2" rx="0.6" fill="#6b7280"/></svg>
<div class="t" style="left:53.69999999999999px;top:50.7px;font-family:'Liberation Mono',monospace;font-size:10.4px;letter-spacing:-0.48px;-webkit-text-stroke:0.2px #4b5563;color:#4b5563">&#x27;Sign in&#x27; via mobile</div>
<svg style="left:183.29999999999995px;top:48.81px" width="13.7" height="13.7" viewBox="0 0 14 14"><rect x="0" y="0" width="14" height="14" rx="3.2" fill="#fef3c8"/><g stroke="#c8671e" stroke-width="1.1" stroke-linecap="round"><line x1="4.1" y1="3.3" x2="4.5" y2="4.3"/><line x1="7" y1="2.5" x2="7" y2="3.6"/><line x1="9.9" y1="3.3" x2="9.5" y2="4.3"/><line x1="2.5" y1="6.3" x2="3.6" y2="6.4"/><line x1="4.6" y1="8.5" x2="4.1" y2="9.4"/></g><path d="M7.4 6.9 L11.2 8.4 L9.6 9.1 L11.3 10.8 L10.6 11.5 L8.9 9.8 L8.3 11.3Z" fill="#c2410c" stroke="#c2410c" stroke-width="0.5" stroke-linejoin="round"/></svg>
<div class="t" style="left:200px;top:49.4px;height:15px;font-size:11.8px;color:#222;display:flex;align-items:center">Check that the default country code is set based on the user&#x27;s location<span style="display:inline-block;width:15px;height:15px;margin-left:5px;position:relative;top:0px"><svg style="left:0px;top:0px" width="15" height="15" viewBox="0 0 22 22"><circle cx="11" cy="11" r="10" fill="#fff" stroke="#333" stroke-width="1.4"/><path d="M4.8 4.8 H13.4 V7.6 H11.9 V19.3 H9 V7.6 H4.8Z" fill="#2a2a2a"/><line x1="14.6" y1="4.8" x2="14.4" y2="10" stroke="#3b82f6" stroke-width="1"/><line x1="16.1" y1="4.8" x2="15.9" y2="8.4" stroke="#2a2a2a" stroke-width="1.2"/></svg></span><span style="display:inline-block;margin-left:5px;font-size:8.8px;color:#6b7280;background:#e9eaee;border-radius:7px;padding:2px 5px 2px 5px">@Checklist</span></div>
<svg style="left:19.49999999999999px;top:73.89px" width="8.4" height="8.4" viewBox="0 0 10 10"><circle cx="5" cy="5" r="5" fill="#1fae6a"/><path d="M2.7 5.1 L4.4 6.7 L7.4 3.6" fill="none" stroke="#fff" stroke-width="1.4" stroke-linecap="round" stroke-linejoin="round"/></svg>
<svg style="left:35.80000000000001px;top:71.39px" width="11" height="12" viewBox="0 0 11 12"><g fill="none" stroke="#6b7280" stroke-width="1.1"><rect x="0.9" y="1.8" width="9.1" height="9.8" rx="1"/><line x1="3.5" y1="3.8" x2="3.5" y2="9.8"/><line x1="3.5" y1="5.3" x2="8" y2="5.3"/><line x1="3.5" y1="8.6" x2="8" y2="8.6"/></g><rect x="3.8" y="0.4" width="3.4" height="2.2" rx="0.6" fill="#6b7280"/></svg>
<div class="t" style="left:53.69999999999999px;top:72.8px;font-family:'Liberation Mono',monospace;font-size:10.4px;letter-spacing:-0.48px;-webkit-text-stroke:0.2px #4b5563;color:#4b5563">Airport Transfer</div>
<svg style="left:183.29999999999995px;top:70.94px" width="13.7" height="13.7" viewBox="0 0 14 14"><rect x="0" y="0" width="14" height="14" rx="3.2" fill="#fef3c8"/><g stroke="#c8671e" stroke-width="1.1" stroke-linecap="round"><line x1="4.1" y1="3.3" x2="4.5" y2="4.3"/><line x1="7" y1="2.5" x2="7" y2="3.6"/><line x1="9.9" y1="3.3" x2="9.5" y2="4.3"/><line x1="2.5" y1="6.3" x2="3.6" y2="6.4"/><line x1="4.6" y1="8.5" x2="4.1" y2="9.4"/></g><path d="M7.4 6.9 L11.2 8.4 L9.6 9.1 L11.3 10.8 L10.6 11.5 L8.9 9.8 L8.3 11.3Z" fill="#c2410c" stroke="#c2410c" stroke-width="0.5" stroke-linejoin="round"/></svg>
<div class="t" style="left:200px;top:71.5px;height:15px;font-size:11.8px;color:#222;display:flex;align-items:center">Check that user can&#x27;t perform the transfer search, when all input fields in the &#x27;Airport transfer&#x27; form are empty</div>
<svg style="left:19.49999999999999px;top:96.02px" width="8.4" height="8.4" viewBox="0 0 10 10"><circle cx="5" cy="5" r="5" fill="#1fae6a"/><path d="M2.7 5.1 L4.4 6.7 L7.4 3.6" fill="none" stroke="#fff" stroke-width="1.4" stroke-linecap="round" stroke-linejoin="round"/></svg>
<svg style="left:35.80000000000001px;top:93.52px" width="11" height="12" viewBox="0 0 11 12"><g fill="none" stroke="#6b7280" stroke-width="1.1"><rect x="0.9" y="1.8" width="9.1" height="9.8" rx="1"/><line x1="3.5" y1="3.8" x2="3.5" y2="9.8"/><line x1="3.5" y1="5.3" x2="8" y2="5.3"/><line x1="3.5" y1="8.6" x2="8" y2="8.6"/></g><rect x="3.8" y="0.4" width="3.4" height="2.2" rx="0.6" fill="#6b7280"/></svg>
<div class="t" style="left:53.69999999999999px;top:94.9px;font-family:'Liberation Mono',monospace;font-size:10.4px;letter-spacing:-0.48px;-webkit-text-stroke:0.2px #4b5563;color:#4b5563">&#x27;Sign in&#x27; via mobile</div>
<svg style="left:183.29999999999995px;top:93.07px" width="13.7" height="13.7" viewBox="0 0 14 14"><rect x="0" y="0" width="14" height="14" rx="3.2" fill="#fef3c8"/><g stroke="#c8671e" stroke-width="1.1" stroke-linecap="round"><line x1="4.1" y1="3.3" x2="4.5" y2="4.3"/><line x1="7" y1="2.5" x2="7" y2="3.6"/><line x1="9.9" y1="3.3" x2="9.5" y2="4.3"/><line x1="2.5" y1="6.3" x2="3.6" y2="6.4"/><line x1="4.6" y1="8.5" x2="4.1" y2="9.4"/></g><path d="M7.4 6.9 L11.2 8.4 L9.6 9.1 L11.3 10.8 L10.6 11.5 L8.9 9.8 L8.3 11.3Z" fill="#c2410c" stroke="#c2410c" stroke-width="0.5" stroke-linejoin="round"/></svg>
<div class="t" style="left:200px;top:93.6px;height:15px;font-size:11.8px;color:#222;display:flex;align-items:center">Check that user can open/close the dropdown with the country code by clicking on it<span style="display:inline-block;width:15px;height:15px;margin-left:5px;position:relative;top:0px"><svg style="left:0px;top:0px" width="15" height="15" viewBox="0 0 22 22"><circle cx="11" cy="11" r="10" fill="#fff" stroke="#333" stroke-width="1.4"/><path d="M4.8 4.8 H13.4 V7.6 H11.9 V19.3 H9 V7.6 H4.8Z" fill="#2a2a2a"/><line x1="14.6" y1="4.8" x2="14.4" y2="10" stroke="#3b82f6" stroke-width="1"/><line x1="16.1" y1="4.8" x2="15.9" y2="8.4" stroke="#2a2a2a" stroke-width="1.2"/></svg></span><span style="display:inline-block;margin-left:5px;font-size:8.8px;color:#6b7280;background:#e9eaee;border-radius:7px;padding:2px 5px 2px 5px">@Checklist</span></div>
<svg style="left:19.49999999999999px;top:118.14999999999999px" width="8.4" height="8.4" viewBox="0 0 10 10"><circle cx="5" cy="5" r="5" fill="#1fae6a"/><path d="M2.7 5.1 L4.4 6.7 L7.4 3.6" fill="none" stroke="#fff" stroke-width="1.4" stroke-linecap="round" stroke-linejoin="round"/></svg>
<svg style="left:35.80000000000001px;top:115.64999999999999px" width="11" height="12" viewBox="0 0 11 12"><g fill="none" stroke="#6b7280" stroke-width="1.1"><rect x="0.9" y="1.8" width="9.1" height="9.8" rx="1"/><line x1="3.5" y1="3.8" x2="3.5" y2="9.8"/><line x1="3.5" y1="5.3" x2="8" y2="5.3"/><line x1="3.5" y1="8.6" x2="8" y2="8.6"/></g><rect x="3.8" y="0.4" width="3.4" height="2.2" rx="0.6" fill="#6b7280"/></svg>
<div class="t" style="left:53.69999999999999px;top:117.0px;font-family:'Liberation Mono',monospace;font-size:10.4px;letter-spacing:-0.48px;-webkit-text-stroke:0.2px #4b5563;color:#4b5563">Airport Transfer</div>
<svg style="left:183.29999999999995px;top:115.19999999999999px" width="13.7" height="13.7" viewBox="0 0 14 14"><rect x="0" y="0" width="14" height="14" rx="3.2" fill="#fef3c8"/><g stroke="#c8671e" stroke-width="1.1" stroke-linecap="round"><line x1="4.1" y1="3.3" x2="4.5" y2="4.3"/><line x1="7" y1="2.5" x2="7" y2="3.6"/><line x1="9.9" y1="3.3" x2="9.5" y2="4.3"/><line x1="2.5" y1="6.3" x2="3.6" y2="6.4"/><line x1="4.6" y1="8.5" x2="4.1" y2="9.4"/></g><path d="M7.4 6.9 L11.2 8.4 L9.6 9.1 L11.3 10.8 L10.6 11.5 L8.9 9.8 L8.3 11.3Z" fill="#c2410c" stroke="#c2410c" stroke-width="0.5" stroke-linejoin="round"/></svg>
<div class="t" style="left:200px;top:115.7px;height:15px;font-size:11.8px;color:#222;display:flex;align-items:center">Check that user can&#x27;t perform the transfer search if the &#x27;Location&#x27; input field is empty<span style="display:inline-block;width:15px;height:15px;margin-left:5px;position:relative;top:0px"><svg style="left:0px;top:0px" width="15" height="15" viewBox="0 0 22 22"><circle cx="11" cy="11" r="10" fill="#fff" stroke="#333" stroke-width="1.4"/><path d="M4.8 4.8 H13.4 V7.6 H11.9 V19.3 H9 V7.6 H4.8Z" fill="#2a2a2a"/><line x1="14.6" y1="4.8" x2="14.4" y2="10" stroke="#3b82f6" stroke-width="1"/><line x1="16.1" y1="4.8" x2="15.9" y2="8.4" stroke="#2a2a2a" stroke-width="1.2"/></svg></span></div>
<svg style="left:19.49999999999999px;top:140.28000000000006px" width="8.4" height="8.4" viewBox="0 0 10 10"><circle cx="5" cy="5" r="5" fill="#1fae6a"/><path d="M2.7 5.1 L4.4 6.7 L7.4 3.6" fill="none" stroke="#fff" stroke-width="1.4" stroke-linecap="round" stroke-linejoin="round"/></svg>
<svg style="left:35.80000000000001px;top:137.78000000000003px" width="11" height="12" viewBox="0 0 11 12"><g fill="none" stroke="#6b7280" stroke-width="1.1"><rect x="0.9" y="1.8" width="9.1" height="9.8" rx="1"/><line x1="3.5" y1="3.8" x2="3.5" y2="9.8"/><line x1="3.5" y1="5.3" x2="8" y2="5.3"/><line x1="3.5" y1="8.6" x2="8" y2="8.6"/></g><rect x="3.8" y="0.4" width="3.4" height="2.2" rx="0.6" fill="#6b7280"/></svg>
<div class="t" style="left:53.69999999999999px;top:139.2px;font-family:'Liberation Mono',monospace;font-size:10.4px;letter-spacing:-0.48px;-webkit-text-stroke:0.2px #4b5563;color:#4b5563">&#x27;Sign in&#x27; via mobile</div>
<svg style="left:183.29999999999995px;top:137.33000000000004px" width="13.7" height="13.7" viewBox="0 0 14 14"><rect x="0" y="0" width="14" height="14" rx="3.2" fill="#fef3c8"/><g stroke="#c8671e" stroke-width="1.1" stroke-linecap="round"><line x1="4.1" y1="3.3" x2="4.5" y2="4.3"/><line x1="7" y1="2.5" x2="7" y2="3.6"/><line x1="9.9" y1="3.3" x2="9.5" y2="4.3"/><line x1="2.5" y1="6.3" x2="3.6" y2="6.4"/><line x1="4.6" y1="8.5" x2="4.1" y2="9.4"/></g><path d="M7.4 6.9 L11.2 8.4 L9.6 9.1 L11.3 10.8 L10.6 11.5 L8.9 9.8 L8.3 11.3Z" fill="#c2410c" stroke="#c2410c" stroke-width="0.5" stroke-linejoin="round"/></svg>
<div class="t" style="left:200px;top:137.9px;height:15px;font-size:11.8px;color:#222;display:flex;align-items:center">Check that user can select any code from the dropdown list<span style="display:inline-block;width:15px;height:15px;margin-left:5px;position:relative;top:0px"><svg style="left:0px;top:0px" width="15" height="15" viewBox="0 0 22 22"><circle cx="11" cy="11" r="10" fill="#fff" stroke="#333" stroke-width="1.4"/><path d="M4.8 4.8 H13.4 V7.6 H11.9 V19.3 H9 V7.6 H4.8Z" fill="#2a2a2a"/><line x1="14.6" y1="4.8" x2="14.4" y2="10" stroke="#3b82f6" stroke-width="1"/><line x1="16.1" y1="4.8" x2="15.9" y2="8.4" stroke="#2a2a2a" stroke-width="1.2"/></svg></span><span style="display:inline-block;margin-left:5px;font-size:8.8px;color:#6b7280;background:#e9eaee;border-radius:7px;padding:2px 5px 2px 5px">@Checklist</span></div>
<svg style="left:19.49999999999999px;top:162.41000000000005px" width="8.4" height="8.4" viewBox="0 0 10 10"><circle cx="5" cy="5" r="5" fill="#1fae6a"/><path d="M2.7 5.1 L4.4 6.7 L7.4 3.6" fill="none" stroke="#fff" stroke-width="1.4" stroke-linecap="round" stroke-linejoin="round"/></svg>
<svg style="left:35.80000000000001px;top:159.91000000000003px" width="11" height="12" viewBox="0 0 11 12"><g fill="none" stroke="#6b7280" stroke-width="1.1"><rect x="0.9" y="1.8" width="9.1" height="9.8" rx="1"/><line x1="3.5" y1="3.8" x2="3.5" y2="9.8"/><line x1="3.5" y1="5.3" x2="8" y2="5.3"/><line x1="3.5" y1="8.6" x2="8" y2="8.6"/></g><rect x="3.8" y="0.4" width="3.4" height="2.2" rx="0.6" fill="#6b7280"/></svg>
<div class="t" style="left:53.69999999999999px;top:161.3px;font-family:'Liberation Mono',monospace;font-size:10.4px;letter-spacing:-0.48px;-webkit-text-stroke:0.2px #4b5563;color:#4b5563">Airport Transfer</div>
<svg style="left:183.29999999999995px;top:159.46000000000004px" width="13.7" height="13.7" viewBox="0 0 14 14"><rect x="0" y="0" width="14" height="14" rx="3.2" fill="#fef3c8"/><g stroke="#c8671e" stroke-width="1.1" stroke-linecap="round"><line x1="4.1" y1="3.3" x2="4.5" y2="4.3"/><line x1="7" y1="2.5" x2="7" y2="3.6"/><line x1="9.9" y1="3.3" x2="9.5" y2="4.3"/><line x1="2.5" y1="6.3" x2="3.6" y2="6.4"/><line x1="4.6" y1="8.5" x2="4.1" y2="9.4"/></g><path d="M7.4 6.9 L11.2 8.4 L9.6 9.1 L11.3 10.8 L10.6 11.5 L8.9 9.8 L8.3 11.3Z" fill="#c2410c" stroke="#c2410c" stroke-width="0.5" stroke-linejoin="round"/></svg>
<div class="t" style="left:200px;top:160.0px;height:15px;font-size:11.8px;color:#222;display:flex;align-items:center">Check that user can&#x27;t continue transfer search if the Airport is not selected from the autocomplete</div>
<svg style="left:19.49999999999999px;top:184.54000000000005px" width="8.4" height="8.4" viewBox="0 0 10 10"><circle cx="5" cy="5" r="5" fill="#1fae6a"/><path d="M2.7 5.1 L4.4 6.7 L7.4 3.6" fill="none" stroke="#fff" stroke-width="1.4" stroke-linecap="round" stroke-linejoin="round"/></svg>
<svg style="left:35.80000000000001px;top:182.04000000000002px" width="11" height="12" viewBox="0 0 11 12"><g fill="none" stroke="#6b7280" stroke-width="1.1"><rect x="0.9" y="1.8" width="9.1" height="9.8" rx="1"/><line x1="3.5" y1="3.8" x2="3.5" y2="9.8"/><line x1="3.5" y1="5.3" x2="8" y2="5.3"/><line x1="3.5" y1="8.6" x2="8" y2="8.6"/></g><rect x="3.8" y="0.4" width="3.4" height="2.2" rx="0.6" fill="#6b7280"/></svg>
<div class="t" style="left:53.69999999999999px;top:183.4px;font-family:'Liberation Mono',monospace;font-size:10.4px;letter-spacing:-0.48px;-webkit-text-stroke:0.2px #4b5563;color:#4b5563">&#x27;Sign in&#x27; via mobile</div>
<svg style="left:183.29999999999995px;top:181.59000000000003px" width="13.7" height="13.7" viewBox="0 0 14 14"><rect x="0" y="0" width="14" height="14" rx="3.2" fill="#fef3c8"/><g stroke="#c8671e" stroke-width="1.1" stroke-linecap="round"><line x1="4.1" y1="3.3" x2="4.5" y2="4.3"/><line x1="7" y1="2.5" x2="7" y2="3.6"/><line x1="9.9" y1="3.3" x2="9.5" y2="4.3"/><line x1="2.5" y1="6.3" x2="3.6" y2="6.4"/><line x1="4.6" y1="8.5" x2="4.1" y2="9.4"/></g><path d="M7.4 6.9 L11.2 8.4 L9.6 9.1 L11.3 10.8 L10.6 11.5 L8.9 9.8 L8.3 11.3Z" fill="#c2410c" stroke="#c2410c" stroke-width="0.5" stroke-linejoin="round"/></svg>
<div class="t" style="left:200px;top:182.1px;height:15px;font-size:11.8px;color:#222;display:flex;align-items:center">Check that only numbers can be entered in the &#x27;Mobile&#x27; field<span style="display:inline-block;width:15px;height:15px;margin-left:5px;position:relative;top:0px"><svg style="left:0px;top:0px" width="15" height="15" viewBox="0 0 22 22"><circle cx="11" cy="11" r="10" fill="#fff" stroke="#333" stroke-width="1.4"/><path d="M4.8 4.8 H13.4 V7.6 H11.9 V19.3 H9 V7.6 H4.8Z" fill="#2a2a2a"/><line x1="14.6" y1="4.8" x2="14.4" y2="10" stroke="#3b82f6" stroke-width="1"/><line x1="16.1" y1="4.8" x2="15.9" y2="8.4" stroke="#2a2a2a" stroke-width="1.2"/></svg></span><span style="display:inline-block;margin-left:5px;font-size:8.8px;color:#6b7280;background:#e9eaee;border-radius:7px;padding:2px 5px 2px 5px">@Checklist</span></div>
<svg style="left:19.49999999999999px;top:206.67000000000004px" width="8.4" height="8.4" viewBox="0 0 10 10"><circle cx="5" cy="5" r="5" fill="#1fae6a"/><path d="M2.7 5.1 L4.4 6.7 L7.4 3.6" fill="none" stroke="#fff" stroke-width="1.4" stroke-linecap="round" stroke-linejoin="round"/></svg>
<svg style="left:35.80000000000001px;top:204.17000000000002px" width="11" height="12" viewBox="0 0 11 12"><g fill="none" stroke="#6b7280" stroke-width="1.1"><rect x="0.9" y="1.8" width="9.1" height="9.8" rx="1"/><line x1="3.5" y1="3.8" x2="3.5" y2="9.8"/><line x1="3.5" y1="5.3" x2="8" y2="5.3"/><line x1="3.5" y1="8.6" x2="8" y2="8.6"/></g><rect x="3.8" y="0.4" width="3.4" height="2.2" rx="0.6" fill="#6b7280"/></svg>
<div class="t" style="left:53.69999999999999px;top:205.6px;font-family:'Liberation Mono',monospace;font-size:10.4px;letter-spacing:-0.48px;-webkit-text-stroke:0.2px #4b5563;color:#4b5563">Airport Transfer</div>
<svg style="left:183.29999999999995px;top:203.72000000000003px" width="13.7" height="13.7" viewBox="0 0 14 14"><rect x="0" y="0" width="14" height="14" rx="3.2" fill="#fef3c8"/><g stroke="#c8671e" stroke-width="1.1" stroke-linecap="round"><line x1="4.1" y1="3.3" x2="4.5" y2="4.3"/><line x1="7" y1="2.5" x2="7" y2="3.6"/><line x1="9.9" y1="3.3" x2="9.5" y2="4.3"/><line x1="2.5" y1="6.3" x2="3.6" y2="6.4"/><line x1="4.6" y1="8.5" x2="4.1" y2="9.4"/></g><path d="M7.4 6.9 L11.2 8.4 L9.6 9.1 L11.3 10.8 L10.6 11.5 L8.9 9.8 L8.3 11.3Z" fill="#c2410c" stroke="#c2410c" stroke-width="0.5" stroke-linejoin="round"/></svg>
<div class="t" style="left:200px;top:204.3px;height:15px;font-size:11.8px;color:#222;display:flex;align-items:center">Check that user can&#x27;t continue transfer search when Location is not selected from the autocomplete</div>
<svg style="left:19.49999999999999px;top:228.80000000000004px" width="8.4" height="8.4" viewBox="0 0 10 10"><circle cx="5" cy="5" r="5" fill="#1fae6a"/><path d="M2.7 5.1 L4.4 6.7 L7.4 3.6" fill="none" stroke="#fff" stroke-width="1.4" stroke-linecap="round" stroke-linejoin="round"/></svg>
<svg style="left:35.80000000000001px;top:226.3px" width="11" height="12" viewBox="0 0 11 12"><g fill="none" stroke="#6b7280" stroke-width="1.1"><rect x="0.9" y="1.8" width="9.1" height="9.8" rx="1"/><line x1="3.5" y1="3.8" x2="3.5" y2="9.8"/><line x1="3.5" y1="5.3" x2="8" y2="5.3"/><line x1="3.5" y1="8.6" x2="8" y2="8.6"/></g><rect x="3.8" y="0.4" width="3.4" height="2.2" rx="0.6" fill="#6b7280"/></svg>
<div class="t" style="left:53.69999999999999px;top:227.7px;font-family:'Liberation Mono',monospace;font-size:10.4px;letter-spacing:-0.48px;-webkit-text-stroke:0.2px #4b5563;color:#4b5563">&#x27;Sign in&#x27; via mobile</div>
<svg style="left:183.29999999999995px;top:225.85000000000002px" width="13.7" height="13.7" viewBox="0 0 14 14"><rect x="0" y="0" width="14" height="14" rx="3.2" fill="#fef3c8"/><g stroke="#c8671e" stroke-width="1.1" stroke-linecap="round"><line x1="4.1" y1="3.3" x2="4.5" y2="4.3"/><line x1="7" y1="2.5" x2="7" y2="3.6"/><line x1="9.9" y1="3.3" x2="9.5" y2="4.3"/><line x1="2.5" y1="6.3" x2="3.6" y2="6.4"/><line x1="4.6" y1="8.5" x2="4.1" y2="9.4"/></g><path d="M7.4 6.9 L11.2 8.4 L9.6 9.1 L11.3 10.8 L10.6 11.5 L8.9 9.8 L8.3 11.3Z" fill="#c2410c" stroke="#c2410c" stroke-width="0.5" stroke-linejoin="round"/></svg>
<div class="t" style="left:200px;top:226.4px;height:15px;font-size:11.8px;color:#222;display:flex;align-items:center">Check that &#x27;Password is case sensitive and must be at least 8 characters long.&#x27; error message</div>
<svg style="left:19.49999999999999px;top:250.93000000000004px" width="8.4" height="8.4" viewBox="0 0 10 10"><circle cx="5" cy="5" r="5" fill="#1fae6a"/><path d="M2.7 5.1 L4.4 6.7 L7.4 3.6" fill="none" stroke="#fff" stroke-width="1.4" stroke-linecap="round" stroke-linejoin="round"/></svg>
<svg style="left:35.80000000000001px;top:248.43px" width="11" height="12" viewBox="0 0 11 12"><g fill="none" stroke="#6b7280" stroke-width="1.1"><rect x="0.9" y="1.8" width="9.1" height="9.8" rx="1"/><line x1="3.5" y1="3.8" x2="3.5" y2="9.8"/><line x1="3.5" y1="5.3" x2="8" y2="5.3"/><line x1="3.5" y1="8.6" x2="8" y2="8.6"/></g><rect x="3.8" y="0.4" width="3.4" height="2.2" rx="0.6" fill="#6b7280"/></svg>
<div class="t" style="left:53.69999999999999px;top:249.8px;font-family:'Liberation Mono',monospace;font-size:10.4px;letter-spacing:-0.48px;-webkit-text-stroke:0.2px #4b5563;color:#4b5563">Airport Transfer</div>
<svg style="left:183.29999999999995px;top:247.98000000000002px" width="13.7" height="13.7" viewBox="0 0 14 14"><rect x="0" y="0" width="14" height="14" rx="3.2" fill="#fef3c8"/><g stroke="#c8671e" stroke-width="1.1" stroke-linecap="round"><line x1="4.1" y1="3.3" x2="4.5" y2="4.3"/><line x1="7" y1="2.5" x2="7" y2="3.6"/><line x1="9.9" y1="3.3" x2="9.5" y2="4.3"/><line x1="2.5" y1="6.3" x2="3.6" y2="6.4"/><line x1="4.6" y1="8.5" x2="4.1" y2="9.4"/></g><path d="M7.4 6.9 L11.2 8.4 L9.6 9.1 L11.3 10.8 L10.6 11.5 L8.9 9.8 L8.3 11.3Z" fill="#c2410c" stroke="#c2410c" stroke-width="0.5" stroke-linejoin="round"/></svg>
<div class="t" style="left:200px;top:248.5px;height:15px;font-size:11.8px;color:#222;display:flex;align-items:center">Check that user can&#x27;t perform a trasfer search if pick-up date is not selected<span style="display:inline-block;width:15px;height:15px;margin-left:5px;position:relative;top:0px"><svg style="left:0px;top:0px" width="15" height="15" viewBox="0 0 22 22"><circle cx="11" cy="11" r="10" fill="#fff" stroke="#333" stroke-width="1.4"/><path d="M4.8 4.8 H13.4 V7.6 H11.9 V19.3 H9 V7.6 H4.8Z" fill="#2a2a2a"/><line x1="14.6" y1="4.8" x2="14.4" y2="10" stroke="#3b82f6" stroke-width="1"/><line x1="16.1" y1="4.8" x2="15.9" y2="8.4" stroke="#2a2a2a" stroke-width="1.2"/></svg></span></div>
<svg style="left:19.49999999999999px;top:273.06px" width="8.4" height="8.4" viewBox="0 0 10 10"><circle cx="5" cy="5" r="5" fill="#1fae6a"/><path d="M2.7 5.1 L4.4 6.7 L7.4 3.6" fill="none" stroke="#fff" stroke-width="1.4" stroke-linecap="round" stroke-linejoin="round"/></svg>
<svg style="left:35.80000000000001px;top:270.56px" width="11" height="12" viewBox="0 0 11 12"><g fill="none" stroke="#6b7280" stroke-width="1.1"><rect x="0.9" y="1.8" width="9.1" height="9.8" rx="1"/><line x1="3.5" y1="3.8" x2="3.5" y2="9.8"/><line x1="3.5" y1="5.3" x2="8" y2="5.3"/><line x1="3.5" y1="8.6" x2="8" y2="8.6"/></g><rect x="3.8" y="0.4" width="3.4" height="2.2" rx="0.6" fill="#6b7280"/></svg>
<div class="t" style="left:53.69999999999999px;top:272.0px;font-family:'Liberation Mono',monospace;font-size:10.4px;letter-spacing:-0.48px;-webkit-text-stroke:0.2px #4b5563;color:#4b5563">&#x27;Sign in&#x27; via mobile</div>
<svg style="left:183.29999999999995px;top:270.11px" width="13.7" height="13.7" viewBox="0 0 14 14"><rect x="0" y="0" width="14" height="14" rx="3.2" fill="#fef3c8"/><g stroke="#c8671e" stroke-width="1.1" stroke-linecap="round"><line x1="4.1" y1="3.3" x2="4.5" y2="4.3"/><line x1="7" y1="2.5" x2="7" y2="3.6"/><line x1="9.9" y1="3.3" x2="9.5" y2="4.3"/><line x1="2.5" y1="6.3" x2="3.6" y2="6.4"/><line x1="4.6" y1="8.5" x2="4.1" y2="9.4"/></g><path d="M7.4 6.9 L11.2 8.4 L9.6 9.1 L11.3 10.8 L10.6 11.5 L8.9 9.8 L8.3 11.3Z" fill="#c2410c" stroke="#c2410c" stroke-width="0.5" stroke-linejoin="round"/></svg>
<div class="t" style="left:200px;top:270.7px;height:15px;font-size:11.8px;color:#222;display:flex;align-items:center">Check that &#x27;Mobile number&#x27; field can&#x27;t be empty<span style="display:inline-block;width:15px;height:15px;margin-left:5px;position:relative;top:0px"><svg style="left:0px;top:0px" width="15" height="15" viewBox="0 0 22 22"><circle cx="11" cy="11" r="10" fill="#fff" stroke="#333" stroke-width="1.4"/><path d="M4.8 4.8 H13.4 V7.6 H11.9 V19.3 H9 V7.6 H4.8Z" fill="#2a2a2a"/><line x1="14.6" y1="4.8" x2="14.4" y2="10" stroke="#3b82f6" stroke-width="1"/><line x1="16.1" y1="4.8" x2="15.9" y2="8.4" stroke="#2a2a2a" stroke-width="1.2"/></svg></span><span style="display:inline-block;margin-left:5px;font-size:8.8px;color:#6b7280;background:#e9eaee;border-radius:7px;padding:2px 5px 2px 5px">@Checklist</span></div>
<svg style="left:19.600000000000012px;top:294.79px" width="8.4" height="8.4"><circle cx="4.2" cy="4.2" r="4.2" fill="#ec3b43"/><rect x="1.9000000000000004" y="3.45" width="4.6" height="1.5" fill="#fff"/></svg>
<svg style="left:35.80000000000001px;top:292.69px" width="11" height="12" viewBox="0 0 11 12"><g fill="none" stroke="#6b7280" stroke-width="1.1"><rect x="0.9" y="1.8" width="9.1" height="9.8" rx="1"/><line x1="3.5" y1="3.8" x2="3.5" y2="9.8"/><line x1="3.5" y1="5.3" x2="8" y2="5.3"/><line x1="3.5" y1="8.6" x2="8" y2="8.6"/></g><rect x="3.8" y="0.4" width="3.4" height="2.2" rx="0.6" fill="#6b7280"/></svg>
<div class="t" style="left:53.69999999999999px;top:294.1px;font-family:'Liberation Mono',monospace;font-size:10.4px;letter-spacing:-0.48px;-webkit-text-stroke:0.2px #4b5563;color:#4b5563">Airport Transfer</div>
<svg style="left:183.29999999999995px;top:292.24px" width="13.7" height="13.7" viewBox="0 0 14 14"><rect x="0" y="0" width="14" height="14" rx="3.2" fill="#fef3c8"/><g stroke="#c8671e" stroke-width="1.1" stroke-linecap="round"><line x1="4.1" y1="3.3" x2="4.5" y2="4.3"/><line x1="7" y1="2.5" x2="7" y2="3.6"/><line x1="9.9" y1="3.3" x2="9.5" y2="4.3"/><line x1="2.5" y1="6.3" x2="3.6" y2="6.4"/><line x1="4.6" y1="8.5" x2="4.1" y2="9.4"/></g><path d="M7.4 6.9 L11.2 8.4 L9.6 9.1 L11.3 10.8 L10.6 11.5 L8.9 9.8 L8.3 11.3Z" fill="#c2410c" stroke="#c2410c" stroke-width="0.5" stroke-linejoin="round"/></svg>
<div class="t" style="left:200px;top:292.8px;height:15px;font-size:11.8px;color:#222;display:flex;align-items:center">Check that user can perform transfer search if airport and location are located in different areas</div>
<svg style="left:19.49999999999999px;top:317.32px" width="8.4" height="8.4" viewBox="0 0 10 10"><circle cx="5" cy="5" r="5" fill="#1fae6a"/><path d="M2.7 5.1 L4.4 6.7 L7.4 3.6" fill="none" stroke="#fff" stroke-width="1.4" stroke-linecap="round" stroke-linejoin="round"/></svg>
<svg style="left:35.80000000000001px;top:314.82px" width="11" height="12" viewBox="0 0 11 12"><g fill="none" stroke="#6b7280" stroke-width="1.1"><rect x="0.9" y="1.8" width="9.1" height="9.8" rx="1"/><line x1="3.5" y1="3.8" x2="3.5" y2="9.8"/><line x1="3.5" y1="5.3" x2="8" y2="5.3"/><line x1="3.5" y1="8.6" x2="8" y2="8.6"/></g><rect x="3.8" y="0.4" width="3.4" height="2.2" rx="0.6" fill="#6b7280"/></svg>
<div class="t" style="left:53.69999999999999px;top:316.2px;font-family:'Liberation Mono',monospace;font-size:10.4px;letter-spacing:-0.48px;-webkit-text-stroke:0.2px #4b5563;color:#4b5563">&#x27;Sign in&#x27; via mobile</div>
<svg style="left:183.29999999999995px;top:314.37px" width="13.7" height="13.7" viewBox="0 0 14 14"><rect x="0" y="0" width="14" height="14" rx="3.2" fill="#fef3c8"/><g stroke="#c8671e" stroke-width="1.1" stroke-linecap="round"><line x1="4.1" y1="3.3" x2="4.5" y2="4.3"/><line x1="7" y1="2.5" x2="7" y2="3.6"/><line x1="9.9" y1="3.3" x2="9.5" y2="4.3"/><line x1="2.5" y1="6.3" x2="3.6" y2="6.4"/><line x1="4.6" y1="8.5" x2="4.1" y2="9.4"/></g><path d="M7.4 6.9 L11.2 8.4 L9.6 9.1 L11.3 10.8 L10.6 11.5 L8.9 9.8 L8.3 11.3Z" fill="#c2410c" stroke="#c2410c" stroke-width="0.5" stroke-linejoin="round"/></svg>
<div class="t" style="left:200px;top:314.9px;height:15px;font-size:11.8px;color:#222;display:flex;align-items:center">Check that &#x27;Password&#x27; field can&#x27;t be empty<span style="display:inline-block;width:15px;height:15px;margin-left:5px;position:relative;top:0px"><svg style="left:0px;top:0px" width="15" height="15" viewBox="0 0 22 22"><circle cx="11" cy="11" r="10" fill="#fff" stroke="#333" stroke-width="1.4"/><path d="M4.8 4.8 H13.4 V7.6 H11.9 V19.3 H9 V7.6 H4.8Z" fill="#2a2a2a"/><line x1="14.6" y1="4.8" x2="14.4" y2="10" stroke="#3b82f6" stroke-width="1"/><line x1="16.1" y1="4.8" x2="15.9" y2="8.4" stroke="#2a2a2a" stroke-width="1.2"/></svg></span><span style="display:inline-block;margin-left:5px;font-size:8.8px;color:#6b7280;background:#e9eaee;border-radius:7px;padding:2px 5px 2px 5px">@Checklist</span></div>
<svg style="left:19.49999999999999px;top:339.45px" width="8.4" height="8.4" viewBox="0 0 10 10"><circle cx="5" cy="5" r="5" fill="#1fae6a"/><path d="M2.7 5.1 L4.4 6.7 L7.4 3.6" fill="none" stroke="#fff" stroke-width="1.4" stroke-linecap="round" stroke-linejoin="round"/></svg>
<svg style="left:35.80000000000001px;top:336.95px" width="11" height="12" viewBox="0 0 11 12"><g fill="none" stroke="#6b7280" stroke-width="1.1"><rect x="0.9" y="1.8" width="9.1" height="9.8" rx="1"/><line x1="3.5" y1="3.8" x2="3.5" y2="9.8"/><line x1="3.5" y1="5.3" x2="8" y2="5.3"/><line x1="3.5" y1="8.6" x2="8" y2="8.6"/></g><rect x="3.8" y="0.4" width="3.4" height="2.2" rx="0.6" fill="#6b7280"/></svg>
<div class="t" style="left:53.69999999999999px;top:338.4px;font-family:'Liberation Mono',monospace;font-size:10.4px;letter-spacing:-0.48px;-webkit-text-stroke:0.2px #4b5563;color:#4b5563">&#x27;Sign in&#x27; via mobile</div>
<svg style="left:183.29999999999995px;top:336.5px" width="13.7" height="13.7" viewBox="0 0 14 14"><rect x="0" y="0" width="14" height="14" rx="3.2" fill="#fef3c8"/><g stroke="#c8671e" stroke-width="1.1" stroke-linecap="round"><line x1="4.1" y1="3.3" x2="4.5" y2="4.3"/><line x1="7" y1="2.5" x2="7" y2="3.6"/><line x1="9.9" y1="3.3" x2="9.5" y2="4.3"/><line x1="2.5" y1="6.3" x2="3.6" y2="6.4"/><line x1="4.6" y1="8.5" x2="4.1" y2="9.4"/></g><path d="M7.4 6.9 L11.2 8.4 L9.6 9.1 L11.3 10.8 L10.6 11.5 L8.9 9.8 L8.3 11.3Z" fill="#c2410c" stroke="#c2410c" stroke-width="0.5" stroke-linejoin="round"/></svg>
<div class="t" style="left:200px;top:337.1px;height:15px;font-size:11.8px;color:#222;display:flex;align-items:center">Check that &#x27;Mobile number&#x27; field can&#x27;t be 8 numbers<span style="display:inline-block;width:15px;height:15px;margin-left:5px;position:relative;top:0px"><svg style="left:0px;top:0px" width="15" height="15" viewBox="0 0 22 22"><circle cx="11" cy="11" r="10" fill="#fff" stroke="#333" stroke-width="1.4"/><path d="M4.8 4.8 H13.4 V7.6 H11.9 V19.3 H9 V7.6 H4.8Z" fill="#2a2a2a"/><line x1="14.6" y1="4.8" x2="14.4" y2="10" stroke="#3b82f6" stroke-width="1"/><line x1="16.1" y1="4.8" x2="15.9" y2="8.4" stroke="#2a2a2a" stroke-width="1.2"/></svg></span><span style="display:inline-block;margin-left:5px;font-size:8.8px;color:#6b7280;background:#e9eaee;border-radius:7px;padding:2px 5px 2px 5px">@Checklist</span></div>
</div>
<div class="a" style="left:56px;top:0;width:1224px;height:1px;background:#f0f1f3"></div>
</div></body></html>
